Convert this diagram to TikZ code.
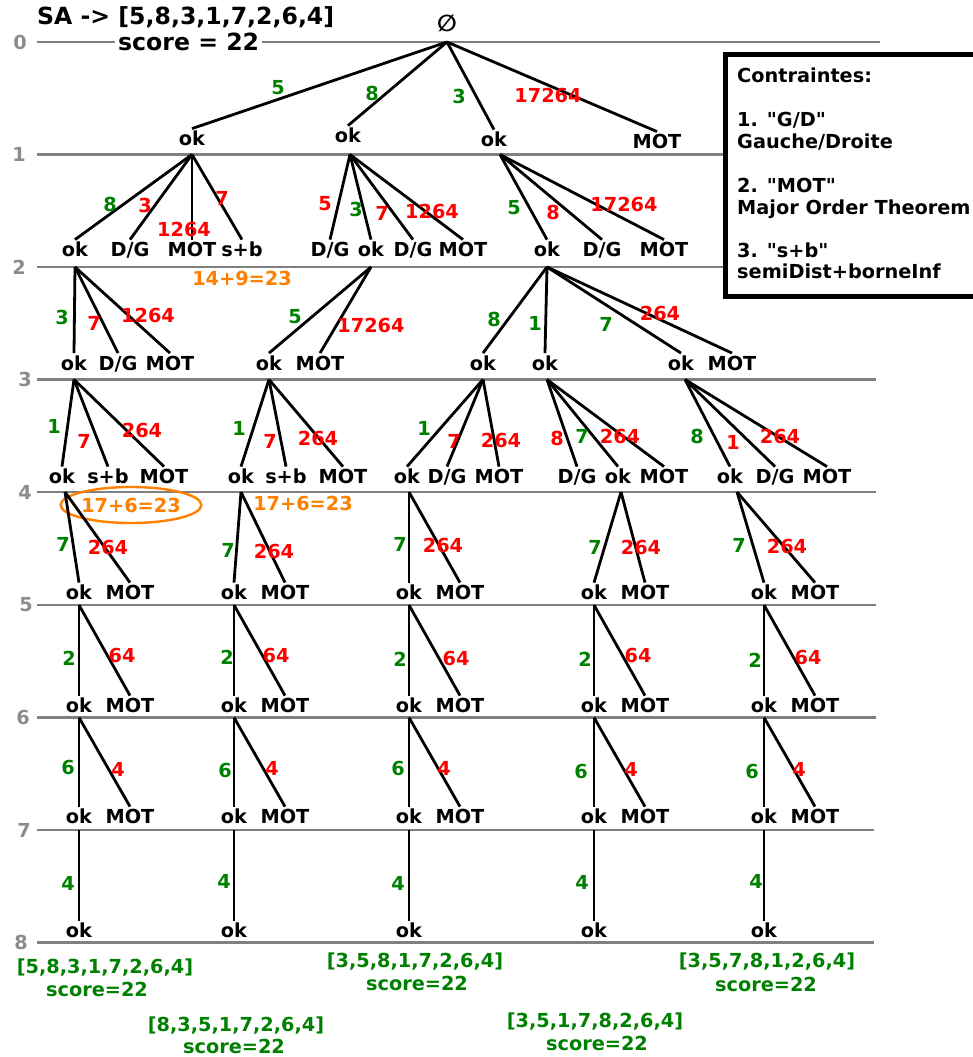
\documentclass[tikz,border=0pt]{standalone}
\usepackage{fontspec}
\setmainfont{DejaVu Sans}[Ligatures=TeXOff]
\usetikzlibrary{shapes.geometric}
\definecolor{tgreen}{RGB}{0,128,0}
\definecolor{tred}{RGB}{255,0,0}
\definecolor{torange}{RGB}{255,128,0}
\definecolor{tline}{RGB}{128,128,128}
\definecolor{tnum}{RGB}{140,140,140}
\newcommand\mylab[5]{\node[#4] (#1) at (#2,#3) {#5};}
\begin{document}
\begin{tikzpicture}[x=1pt,y=-1pt,
  every node/.style={font=\fontsize{19.3}{21}\selectfont\bfseries},
  tn/.style={text height=17pt, text depth=10pt, inner sep=0pt, anchor=south},
  ed/.style={line width=2.8pt, black},
  lvline/.style={line width=2.4pt, tline},
  lvnum/.style={text=tnum, inner sep=0pt},
  gl/.style={text=tgreen, inner sep=0pt},
  rl/.style={text=tred, inner sep=0pt},
  ol/.style={text=torange, inner sep=0pt},
  ttl/.style={font=\fontsize{23.6}{26}\selectfont\bfseries, inner sep=0pt},
  bxt/.style={anchor=base west, inner sep=0pt}]
\useasboundingbox (0,0) rectangle (972,1057);
% level lines and numbers
\foreach \k/\y/\e/\xn in {0/42/880/20, 1/154.5/725/19, 2/267/725/19, 3/379.5/876/25, 4/492/876/25, 5/605/876/26, 6/717.5/876/23, 7/830/874/24, 8/942.5/874/21}{
  \draw[lvline] (37,\y) -- (\e,\y);
  \node[lvnum] (lv\k) at (\xn,\y) {\k};
}
% title
\node[ttl, anchor=west] (sa) at (37,17) {SA -> [5,8,3,1,7,2,6,4]};
\node[ttl, anchor=west, fill=white, inner xsep=3pt, inner ysep=1pt] (sc) at (115,42) {score = 22};
% legend box
\draw[line width=5pt] (725,55) rectangle (995,296.5);
\node[bxt] (bx1) at (737,82.8) {Contraintes:};
\node[bxt] (bx2) at (737,126.8) {1. "G/D"};
\node[bxt] (bx3) at (737,148.8) {Gauche/Droite};
\node[bxt] (bx4) at (737,192.8) {2. "MOT"};
\node[bxt] (bx5) at (737,214.8) {Major Order Theorem};
\node[bxt] (bx6) at (737,257.8) {3. "s+b"};
\node[bxt] (bx7) at (737,278.8) {semiDist+borneInf};
% root
\node[tn, font=\fontsize{23}{25}\selectfont\bfseries] (root) at (447,42) {∅};
% level 1
\node[tn, text depth=8.5pt] (n1a) at (192,154.5) {ok};
\node[tn, text depth=11.5pt] (n1b) at (348,154.5) {ok};
\node[tn, text depth=7.5pt] (n1c) at (494,154.5) {ok};
\node[tn, text depth=5.5pt] (n1d) at (657,154.5) {MOT};
% level 2
\node[tn] (n2a) at (75,267) {ok};
\node[tn] (n2b) at (130,267) {D/G};
\node[tn] (n2c) at (192,267) {MOT};
\node[tn] (n2d) at (242,267) {s+b};
\node[tn] (n2e) at (330,267) {D/G};
\node[tn] (n2f) at (371,267) {ok};
\node[tn] (n2g) at (413,267) {D/G};
\node[tn] (n2h) at (463,267) {MOT};
\node[tn] (n2i) at (547,267) {ok};
\node[tn] (n2j) at (602,267) {D/G};
\node[tn] (n2k) at (664,267) {MOT};
\mylab{o0}{242}{278}{ol}{14+9=23}
% level 3
\node[tn, text depth=9pt] (n3a) at (74,379.5) {ok};
\node[tn, text depth=9pt] (n3b) at (118,379.5) {D/G};
\node[tn, text depth=9pt] (n3c) at (170,379.5) {MOT};
\node[tn, text depth=9pt] (n3d) at (269,379.5) {ok};
\node[tn, text depth=9pt] (n3e) at (320,379.5) {MOT};
\node[tn, text depth=9pt] (n3f) at (483,379.5) {ok};
\node[tn, text depth=9pt] (n3g) at (545,379.5) {ok};
\node[tn, text depth=9pt] (n3h) at (681,379.5) {ok};
\node[tn, text depth=9pt] (n3i) at (732,379.5) {MOT};
% level 4
\node[tn, text depth=8pt] (n4a) at (62,492) {ok};
\node[tn, text depth=8pt] (n4b) at (108,492) {s+b};
\node[tn, text depth=8pt] (n4c) at (164,492) {MOT};
\node[tn, text depth=8pt] (n4d) at (241,492) {ok};
\node[tn, text depth=8pt] (n4e) at (286,492) {s+b};
\node[tn, text depth=8pt] (n4f) at (343,492) {MOT};
\node[tn, text depth=8pt] (n4g) at (407,492) {ok};
\node[tn, text depth=8pt] (n4h) at (447,492) {D/G};
\node[tn, text depth=8pt] (n4i) at (499,492) {MOT};
\node[tn, text depth=8pt] (n4j) at (577,492) {D/G};
\node[tn, text depth=8pt] (n4k) at (618,492) {ok};
\node[tn, text depth=8pt] (n4l) at (664,492) {MOT};
\node[tn, text depth=8pt] (n4m) at (730,492) {ok};
\node[tn, text depth=8pt] (n4n) at (775,492) {D/G};
\node[tn, text depth=8pt] (n4o) at (827,492) {MOT};
\node[ol, draw=torange, line width=2.4pt, ellipse, minimum width=124pt, minimum height=36pt] (o1) at (131,505) {17+6=23};
\mylab{o2}{303}{503}{ol}{17+6=23}
% levels 5-8 chains
\foreach \i/\x in {1/79,2/234,3/409,4/594,5/764}{
  \node[tn, text depth=5pt] (k5\i) at (\x,605) {ok};
  \node[tn, text depth=5pt] (m5\i) at (\x+51,605) {MOT};
  \node[tn, text depth=4.5pt] (k6\i) at (\x,717.5) {ok};
  \node[tn, text depth=4.5pt] (m6\i) at (\x+51,717.5) {MOT};
  \node[tn, text depth=6pt] (k7\i) at (\x,830) {ok};
  \node[tn, text depth=6pt] (m7\i) at (\x+51,830) {MOT};
  \node[tn, text depth=4.5pt] (k8\i) at (\x,942.5) {ok};
  \draw[ed] (k5\i.south) -- (k6\i.north);
  \draw[ed] (k5\i.south) -- (m6\i.north);
  \draw[ed] (k6\i.south) -- (k7\i.north);
  \draw[ed] (k6\i.south) -- (m7\i.north);
  \draw[ed] (k7\i.south) -- (k8\i.north);
}
% edges level 0-1
\foreach \c in {n1a,n1b,n1c,n1d} \draw[ed] (root.south) -- (\c.north);
% edges level 1-2
\foreach \c in {n2a,n2b,n2c,n2d} \draw[ed] (n1a.south) -- (\c.north);
\foreach \c in {n2e,n2f,n2g,n2h} \draw[ed] ([xshift=2pt]n1b.south) -- (\c.north);
\foreach \c in {n2i,n2j,n2k} \draw[ed] ([xshift=6pt]n1c.south) -- (\c.north);
% edges level 2-3
\foreach \c in {n3a,n3b,n3c} \draw[ed] (n2a.south) -- (\c.north);
\foreach \c in {n3d,n3e} \draw[ed] (n2f.south) -- (\c.north);
\foreach \c in {n3f,n3g,n3h,n3i} \draw[ed] (n2i.south) -- (\c.north);
% edges level 3-4
\foreach \c in {n4a,n4b,n4c} \draw[ed] (n3a.south) -- (\c.north);
\foreach \c in {n4d,n4e,n4f} \draw[ed] (n3d.south) -- (\c.north);
\foreach \c in {n4g,n4h,n4i} \draw[ed] (n3f.south) -- (\c.north);
\foreach \c in {n4j,n4k,n4l} \draw[ed] ([xshift=2pt]n3g.south) -- (\c.north);
\foreach \c in {n4m,n4n,n4o} \draw[ed] ([xshift=4pt]n3h.south) -- (\c.north);
% edges level 4-5
\draw[ed] ([xshift=3pt]n4a.south) -- (k51.north);
\draw[ed] ([xshift=3pt]n4a.south) -- (m51.north);
\draw[ed] (n4d.south) -- (k52.north);
\draw[ed] (n4d.south) -- (m52.north);
\draw[ed] ([xshift=2pt]n4g.south) -- (k53.north);
\draw[ed] ([xshift=2pt]n4g.south) -- (m53.north);
\draw[ed] ([xshift=3pt]n4k.south) -- (k54.north);
\draw[ed] ([xshift=3pt]n4k.south) -- (m54.north);
\draw[ed] ([xshift=7pt]n4m.south) -- (k55.north);
\draw[ed] ([xshift=7pt]n4m.south) -- (m55.north);
% edge labels level 0-1
\mylab{a1}{278}{88}{gl}{5}
\mylab{a2}{372}{93}{gl}{8}
\mylab{a3}{459}{96}{gl}{3}
\mylab{a4}{548}{95}{rl}{17264}
% level 1-2
\mylab{b1}{110}{204}{gl}{8}
\mylab{b2}{145}{205}{rl}{3}
\mylab{b3}{184}{229}{rl}{1264}
\mylab{b4}{222}{198}{rl}{7}
\mylab{b5}{325}{204}{rl}{5}
\mylab{b6}{356}{209}{gl}{3}
\mylab{b7}{382}{213}{rl}{7}
\mylab{b8}{432}{211}{rl}{1264}
\mylab{b9}{514}{208}{gl}{5}
\mylab{b10}{553}{212}{rl}{8}
\mylab{b11}{624}{204}{rl}{17264}
% level 2-3
\mylab{c1}{62}{317}{gl}{3}
\mylab{c2}{94}{323}{rl}{7}
\mylab{c3}{148}{315}{rl}{1264}
\mylab{c4}{295}{317}{gl}{5}
\mylab{c5}{371}{325}{rl}{17264}
\mylab{c6}{494}{319}{gl}{8}
\mylab{c7}{535}{323}{gl}{1}
\mylab{c8}{606}{324}{gl}{7}
\mylab{c9}{660}{313}{rl}{264}
% level 3-4
\mylab{d1}{54}{426}{gl}{1}
\mylab{d2}{84}{441}{rl}{7}
\mylab{d3}{142}{430}{rl}{264}
\mylab{d4}{239}{428}{gl}{1}
\mylab{d5}{270}{441}{rl}{7}
\mylab{d6}{318}{438}{rl}{264}
\mylab{d7}{424}{428}{gl}{1}
\mylab{d8}{454}{441}{rl}{7}
\mylab{d9}{501}{440}{rl}{264}
\mylab{d10}{557}{438}{rl}{8}
\mylab{d11}{582}{436}{gl}{7}
\mylab{d12}{620}{436}{rl}{264}
\mylab{d13}{697}{436}{gl}{8}
\mylab{d14}{733}{442}{rl}{1}
\mylab{d15}{780}{436}{rl}{264}
% level 4-5
\mylab{e1}{63}{544}{gl}{7}
\mylab{e2}{108}{547}{rl}{264}
\mylab{e3}{228}{550}{gl}{7}
\mylab{e4}{274}{551}{rl}{264}
\mylab{e5}{400}{544}{gl}{7}
\mylab{e6}{443}{545}{rl}{264}
\mylab{e7}{595}{547}{gl}{7}
\mylab{e8}{641}{547}{rl}{264}
\mylab{e9}{739}{545}{gl}{7}
\mylab{e10}{787}{546}{rl}{264}
% level 5-6
\mylab{f1}{69}{658}{gl}{2}
\mylab{f2}{122}{655}{rl}{64}
\mylab{f3}{227}{657}{gl}{2}
\mylab{f4}{276}{655}{rl}{64}
\mylab{f5}{400}{659}{gl}{2}
\mylab{f6}{456}{658}{rl}{64}
\mylab{f7}{585}{659}{gl}{2}
\mylab{f8}{638}{655}{rl}{64}
\mylab{f9}{755}{660}{gl}{2}
\mylab{f10}{808}{657}{rl}{64}
% level 6-7
\mylab{g1}{68}{767}{gl}{6}
\mylab{g2}{118}{769}{rl}{4}
\mylab{g3}{225}{770}{gl}{6}
\mylab{g4}{272}{768}{rl}{4}
\mylab{g5}{398}{768}{gl}{6}
\mylab{g6}{444}{768}{rl}{4}
\mylab{g7}{581}{771}{gl}{6}
\mylab{g8}{631}{769}{rl}{4}
\mylab{g9}{752}{771}{gl}{6}
\mylab{g10}{799}{769}{rl}{4}
% level 7-8
\mylab{h1}{68}{883}{gl}{4}
\mylab{h2}{224}{881}{gl}{4}
\mylab{h3}{398}{883}{gl}{4}
\mylab{h4}{582}{882}{gl}{4}
\mylab{h5}{756}{881}{gl}{4}
% results
\mylab{r1}{105}{968}{gl}{[5,8,3,1,7,2,6,4]}
\mylab{s1}{97}{989}{gl}{score=22}
\mylab{r2}{236}{1026}{gl}{[8,3,5,1,7,2,6,4]}
\mylab{s2}{234}{1046}{gl}{score=22}
\mylab{r3}{415}{962}{gl}{[3,5,8,1,7,2,6,4]}
\mylab{s3}{417}{983}{gl}{score=22}
\mylab{r4}{595}{1022}{gl}{[3,5,1,7,8,2,6,4]}
\mylab{s4}{597}{1043}{gl}{score=22}
\mylab{r5}{767}{962}{gl}{[3,5,7,8,1,2,6,4]}
\mylab{s5}{766}{984}{gl}{score=22}
\end{tikzpicture}
\end{document}
